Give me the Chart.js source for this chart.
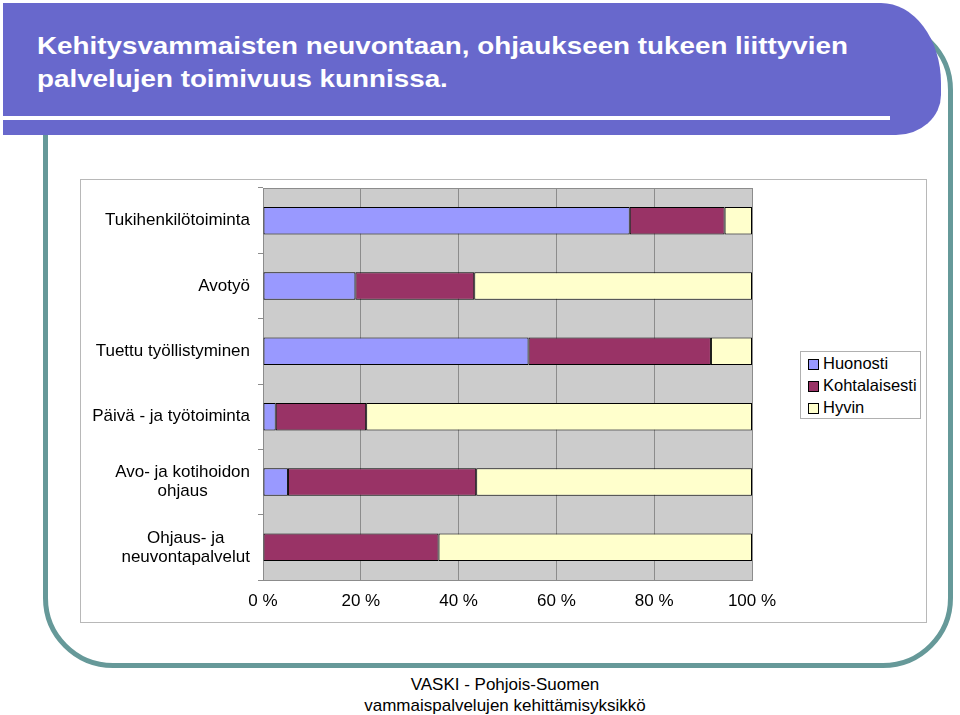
<!DOCTYPE html>
<html>
<head>
<meta charset="utf-8">
<script src="https://cdn.jsdelivr.net/npm/chart.js@4"></script>
<style>
  body { margin: 0; width: 960px; height: 715px; background: #fff; position: relative; overflow: hidden; font-family: "Liberation Sans", Arial, sans-serif; }
  #frame { position: absolute; left: 43px; top: 20px; width: 900px; height: 638px; border: 5px solid #669999; border-radius: 70px; }
  #banner { position: absolute; left: 3px; top: 3px; width: 938px; height: 132px; background: #6868cc; border-top-right-radius: 60px 80px; border-bottom-right-radius: 45px 40px; }
  #banner .rule { position: absolute; left: 0; top: 113px; width: 887px; height: 4px; background: #fff; }
  #title { position: absolute; left: 37px; top: 29px; color: #fff; font: bold 24px "Liberation Sans", Arial, sans-serif; line-height: 33px; white-space: nowrap; transform: scaleX(1.158); transform-origin: left top; }
  #box { position: absolute; left: 80px; top: 179px; width: 845px; height: 442px; border: 1px solid #b8b8b8; background: #fff; }
  #legend { position: absolute; left: 800px; top: 351px; width: 119px; height: 66px; border: 1px solid #b0b0b0; background: #fff; font-size: 16.5px; }
  #legend div { height: 22px; line-height: 22px; padding-left: 7px; white-space: nowrap; }
  #legend span { display: inline-block; width: 9px; height: 9px; border: 1px solid #000; margin-right: 4px; vertical-align: -1px; }
  #footer { position: absolute; left: 0; width: 1010px; top: 674px; text-align: center; font: 17px "Liberation Sans", Arial, sans-serif; line-height: 21px; color: #000; }
</style>
</head>
<body>
<div id="frame"></div>
<div id="banner"><div class="rule"></div></div>
<div id="title">Kehitysvammaisten neuvontaan, ohjaukseen tukeen liittyvien<br>palvelujen toimivuus kunnissa.</div>
<div id="box"><canvas id="myChart" width="845" height="442"></canvas></div>
<div id="legend"></div>
<div id="footer">VASKI - Pohjois-Suomen<br>vammaispalvelujen kehittämisyksikkö</div>
<script>
// Dataset
const categories = [
  "Tukihenkilötoiminta",
  "Avotyö",
  "Tuettu työllistyminen",
  "Päivä - ja työtoiminta",
  ["Avo- ja kotihoidon", "ohjaus"],
  ["Ohjaus- ja", "neuvontapalvelut"]
];
const huonosti = [75.0, 18.9, 54.3, 2.6, 5.1, 0];
const kohtalaisesti = [19.4, 24.3, 37.3, 18.5, 38.5, 35.9];
const hyvin = [5.6, 56.8, 8.4, 78.9, 56.4, 64.1];
const xTicks = [0, 20, 40, 60, 80, 100];

const seriesNames = ["Huonosti", "Kohtalaisesti", "Hyvin"];
const seriesColors = ["#9999ff", "#993366", "#ffffcc"];
const seriesValues = [huonosti, kohtalaisesti, hyvin];

const data = {
  labels: categories,
  datasets: seriesNames.map((name, i) => ({
    label: name,
    data: seriesValues[i],
    backgroundColor: seriesColors[i],
    borderColor: "#000",
    borderWidth: 1,
    borderSkipped: false,
    barPercentage: 0.42,
    categoryPercentage: 1
  }))
};

// grey plot background + centred multi-line category labels
const plotStyle = {
  id: "plotStyle",
  beforeDraw(chart) {
    const { ctx, chartArea: a } = chart;
    ctx.save();
    ctx.fillStyle = "#cccccc";
    ctx.fillRect(a.left, a.top, a.right - a.left, a.bottom - a.top);
    ctx.strokeStyle = "#8c8c8c";
    ctx.lineWidth = 1;
    ctx.beginPath();
    ctx.moveTo(a.left, a.top + 0.5);
    ctx.lineTo(a.right, a.top + 0.5);
    ctx.stroke();
    ctx.restore();
  },
  afterDraw(chart) {
    const { ctx, chartArea: a } = chart;
    const y = chart.scales.y;
    ctx.save();
    ctx.font = "17px 'Liberation Sans', Arial, sans-serif";
    ctx.fillStyle = "#000";
    ctx.textAlign = "center";
    ctx.textBaseline = "middle";
    chart.data.labels.forEach((lab, i) => {
      const lines = Array.isArray(lab) ? lab : [lab];
      const w = Math.max(...lines.map(l => ctx.measureText(l).width));
      const cx = a.left - 13 - w / 2;
      const cy = y.getPixelForTick(i);
      lines.forEach((l, j) => ctx.fillText(l, cx, cy + (j - (lines.length - 1) / 2) * 19));
    });
    ctx.restore();
  }
};

// Style Configurations
const config = {
  type: "bar",
  data: data,
  options: {
    indexAxis: "y",
    responsive: false,
    animation: false,
    layout: { padding: { top: 8, right: 174, left: 0, bottom: 0 } },
    plugins: {
      legend: { display: false },
      title: { display: false },
      tooltip: { enabled: false }
    },
    scales: {
      x: {
        stacked: true,
        min: 0,
        max: 100,
        afterBuildTicks: (s) => { s.ticks = xTicks.map(v => ({ value: v })); },
        afterFit: (s) => { s.height = 42; },
        grid: { color: "#8c8c8c", drawTicks: false },
        border: { color: "#8c8c8c" },
        ticks: {
          padding: 11,
          color: "#000",
          font: { size: 17, family: "'Liberation Sans', Arial, sans-serif" },
          callback: (v) => v + " %"
        }
      },
      y: {
        stacked: true,
        afterFit: (s) => { s.width = 182; },
        grid: { offset: true, drawOnChartArea: false, tickLength: 5, color: "#8c8c8c" },
        border: { color: "#8c8c8c" },
        ticks: { display: false }
      }
    }
  },
  plugins: [plotStyle]
};

// Plotting
let myChart = document.getElementById("myChart").getContext("2d");
let stackedChart = new Chart(myChart, config);

// legend
document.getElementById("legend").innerHTML = seriesNames
  .map((n, i) => `<div><span style="background:${seriesColors[i]}"></span>${n}</div>`)
  .join("");
</script>
</body>
</html>
